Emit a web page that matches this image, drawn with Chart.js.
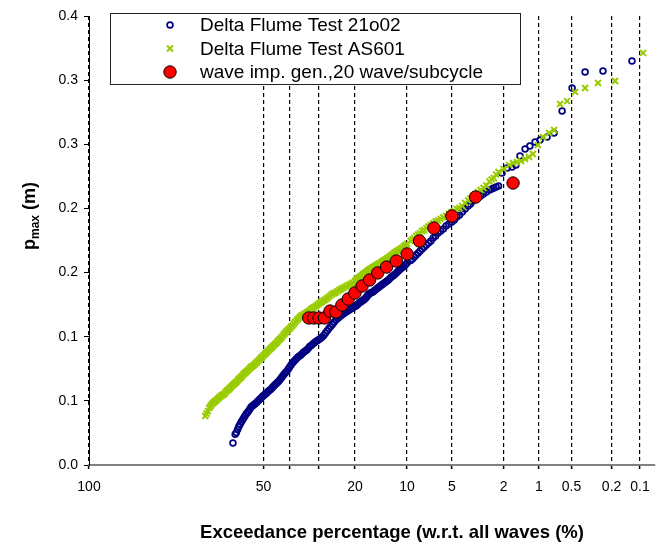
<!DOCTYPE html>
<html>
<head>
<meta charset="utf-8">
<script src="https://cdn.jsdelivr.net/npm/chart.js@4.4.0/dist/chart.umd.min.js"></script>
<style>
  html, body { margin: 0; padding: 0; background: #fff; }
  #wrap { width: 663px; height: 545px; position: relative; }
</style>
</head>
<body>
<div id="wrap"><canvas id="chart"></canvas></div>
<script>
// data (exceedance % , p_max in m)
const seriesNames = ['Delta Flume Test 21o02', 'Delta Flume Test AS601', 'wave imp. gen.,20 wave/subcycle'];

const test21o02Pct = [62.4, 61.5, 61, 60.5, 60, 59.5, 59, 58.5, 58, 57.5, 57, 56.5, 56, 55.5, 55, 54.5, 54, 53.5, 53, 52.5, 52, 51.5, 51, 50.5, 50, 49.5, 49, 48.5, 48, 47.5, 47, 46.5, 46, 45.5, 45, 44.5, 44, 43.5, 43, 42.5, 42, 41.5, 41, 40.5, 40, 39.5, 39, 38.5, 38, 37.5, 37, 36.5, 36, 35.5, 35, 34.5, 34, 33.5, 33, 32.5, 32, 31.5, 31, 30.5, 30, 29.5, 29, 28.5, 28, 27.5, 27, 26.5, 26, 25.5, 25, 24.5, 24, 23.5, 23, 22.5, 22, 21.5, 21, 20.5,
  20, 19.75, 19.5, 19.25, 19, 18.75, 18.5, 18.25, 18, 17.75, 17.5, 17.25, 17, 16.75, 16.5, 16.25, 16, 15.75, 15.5, 15.25, 15, 14.75, 14.5, 14.25, 14, 13.75, 13.5, 13.25, 13, 12.75, 12.5, 12.25, 12, 11.75, 11.5, 11.25, 11, 10.75, 10.5, 10.25,
  10, 9.5, 9.25, 9, 8.75, 8.5, 8.25, 8, 7.75, 7.5, 7.25, 7, 6.75, 6.5, 6.25, 6, 5.75, 5.5, 5.25, 5, 4.8, 4.6, 4.4, 4.2, 4.0, 3.8, 3.65, 3.5, 3.35, 3.2, 3.05, 2.9, 2.75, 2.6, 2.5, 2.4, 2.3, 2.2, 2.06, 1.87, 1.70, 1.58, 1.46, 1.32, 1.20, 1.08, 0.976, 0.844, 0.729, 0.614, 0.494, 0.370, 0.245, 0.122];
const test21o02Pmax = [0.0172, 0.0240, 0.0253, 0.0277, 0.0300, 0.0318, 0.0335, 0.0350, 0.0366, 0.0382, 0.0398, 0.0410, 0.0421, 0.0437, 0.0452, 0.0460, 0.0468, 0.0475, 0.0483, 0.0493, 0.0503, 0.0512, 0.0522, 0.0532, 0.0542, 0.0550, 0.0557, 0.0567, 0.0577, 0.0584, 0.0592, 0.0604, 0.0616, 0.0625, 0.0635, 0.0645, 0.0655, 0.0668, 0.0682, 0.0696, 0.0709, 0.0721, 0.0733, 0.0749, 0.0764, 0.0780, 0.0795, 0.0807, 0.0819, 0.0830, 0.0842, 0.0850, 0.0857, 0.0870, 0.0881, 0.0888, 0.0896, 0.0910, 0.0924, 0.0932, 0.0943, 0.0953, 0.0963, 0.0970, 0.0978, 0.0989, 0.0998, 0.1012, 0.1029, 0.1046, 0.1064, 0.1080, 0.1095, 0.1113, 0.1130, 0.1142, 0.1154, 0.1166, 0.1177, 0.1187, 0.1197, 0.1207, 0.1216, 0.1226,
  0.1236, 0.1241, 0.1247, 0.1255, 0.1263, 0.1268, 0.1274, 0.1280, 0.1286, 0.1294, 0.1302, 0.1313, 0.1325, 0.1333, 0.1341, 0.1345, 0.1349, 0.1357, 0.1364, 0.1372, 0.1380, 0.1388, 0.1395, 0.1403, 0.1411, 0.1418, 0.1426, 0.1434, 0.1442, 0.1453, 0.1465, 0.1473, 0.1481, 0.1492, 0.1504, 0.1516, 0.1528, 0.1537, 0.1547, 0.1561,
  0.1575, 0.1594, 0.1606, 0.1621, 0.1637, 0.1653, 0.1668, 0.1684, 0.1699, 0.1715, 0.1730, 0.1746, 0.1769, 0.1785, 0.1808, 0.1824, 0.1840, 0.1863, 0.1879, 0.1894, 0.1910, 0.1933, 0.1949, 0.1972, 0.1996, 0.2019, 0.2034, 0.2058, 0.2073, 0.2089, 0.2097, 0.2112, 0.2128, 0.2144, 0.2151, 0.2159, 0.2167, 0.2175, 0.2276, 0.2315, 0.2323, 0.2338, 0.2409, 0.2463, 0.2487, 0.2518, 0.2533, 0.2557, 0.2588, 0.2759, 0.2939, 0.3063, 0.3071, 0.3149];

const as601Pct = [73.5, 73, 72.5, 72, 71.5, 71, 70.5, 70, 69.5, 69, 68.5, 68, 67.5, 67, 66.5, 66, 65.5, 65, 64.5, 64, 63.5, 63, 62.5, 62, 61.5, 61, 60.5, 60, 59.5, 59, 58.5, 58, 57.5, 57, 56.5, 56, 55.5, 55, 54.5, 54, 53.5, 53, 52.5, 52, 51.5, 51, 50.5, 50, 49.5, 49, 48.5, 48, 47.5, 47, 46.5, 46, 45.5, 45, 44.5, 44, 43.5, 43, 42.5, 42, 41.5, 41, 40.5, 40, 39.5, 39, 38.5, 38, 37.5, 37, 36.5, 36, 35.5, 35, 34.5, 34, 33.5, 33, 32.5, 32, 31.5, 31, 30.5, 30, 29.5, 29, 28.5, 28, 27.5, 27, 26.5, 26, 25.5, 25, 24.5, 24, 23.5, 23, 22.5, 22, 21.5, 21, 20.5,
  20, 19.75, 19.5, 19.25, 19, 18.75, 18.5, 18.25, 18, 17.75, 17.5, 17.25, 17, 16.75, 16.5, 16.25, 16, 15.75, 15.5, 15.25, 15, 14.75, 14.5, 14.25, 14, 13.75, 13.5, 13.25, 13, 12.75, 12.5, 12.25, 12, 11.75, 11.5, 11.25, 11, 10.75, 10.5, 10.25,
  10, 9.5, 9.25, 9, 8.75, 8.5, 8.25, 8, 7.75, 7.5, 7.25, 7, 6.75, 6.5, 6.25, 6, 5.75, 5.5, 5.25, 5, 4.8, 4.6, 4.4, 4.2, 4.0, 3.8, 3.65, 3.5, 3.35, 3.2, 3.05, 2.9, 2.75, 2.6, 2.5, 2.4, 2.3, 2.2, 2.0, 1.80, 1.67, 1.55, 1.43, 1.32, 1.22, 1.13, 1.02, 0.917, 0.810, 0.729, 0.641, 0.551, 0.462, 0.370, 0.275, 0.184, 0.0925];
const as601Pmax = [0.0382, 0.0400, 0.0420, 0.0444, 0.0458, 0.0472, 0.0482, 0.0491, 0.0499, 0.0507, 0.0517, 0.0526, 0.0534, 0.0542, 0.0548, 0.0553, 0.0565, 0.0577, 0.0585, 0.0592, 0.0602, 0.0612, 0.0622, 0.0631, 0.0639, 0.0647, 0.0659, 0.0670, 0.0678, 0.0686, 0.0698, 0.0709, 0.0717, 0.0725, 0.0735, 0.0744, 0.0754, 0.0764, 0.0770, 0.0776, 0.0786, 0.0795, 0.0805, 0.0815, 0.0825, 0.0834, 0.0844, 0.0854, 0.0864, 0.0873, 0.0883, 0.0893, 0.0903, 0.0912, 0.0922, 0.0932, 0.0942, 0.0951, 0.0963, 0.0974, 0.0984, 0.0994, 0.1008, 0.1021, 0.1033, 0.1045, 0.1055, 0.1064, 0.1076, 0.1087, 0.1101, 0.1115, 0.1127, 0.1138, 0.1150, 0.1161, 0.1167, 0.1173, 0.1181, 0.1189, 0.1197, 0.1204, 0.1214, 0.1224, 0.1232, 0.1239, 0.1249, 0.1259, 0.1267, 0.1274, 0.1282, 0.1290, 0.1300, 0.1310, 0.1322, 0.1333, 0.1339, 0.1345, 0.1355, 0.1364, 0.1372, 0.1380, 0.1388, 0.1395, 0.1403, 0.1411, 0.1421,
  0.1430, 0.1440, 0.1450, 0.1456, 0.1462, 0.1468, 0.1473, 0.1481, 0.1489, 0.1495, 0.1501, 0.1508, 0.1516, 0.1522, 0.1528, 0.1534, 0.1540, 0.1546, 0.1551, 0.1557, 0.1563, 0.1569, 0.1575, 0.1582, 0.1590, 0.1596, 0.1602, 0.1610, 0.1617, 0.1625, 0.1633, 0.1643, 0.1653, 0.1660, 0.1668, 0.1676, 0.1684, 0.1693, 0.1703, 0.1713,
  0.1723, 0.1746, 0.1758, 0.1769, 0.1785, 0.1797, 0.1808, 0.1824, 0.1832, 0.1847, 0.1859, 0.1871, 0.1886, 0.1898, 0.1906, 0.1918, 0.1929, 0.1941, 0.1957, 0.1972, 0.1980, 0.1996, 0.2003, 0.2019, 0.2042, 0.2062, 0.2077, 0.2097, 0.2109, 0.2128, 0.2144, 0.2159, 0.2179, 0.2210, 0.2226, 0.2237, 0.2264, 0.2284, 0.2307, 0.2338, 0.2354, 0.2362, 0.2370, 0.2385, 0.2401, 0.2424, 0.2494, 0.2557, 0.2588, 0.2611, 0.2814, 0.2837, 0.2908, 0.2939, 0.2978, 0.2993, 0.3212];

const impGenPct = [33.33, 31.67, 30, 28.33, 26.67, 25, 23.33, 21.67, 20, 18.33, 16.67, 15, 13.33, 11.67, 10, 8.33, 6.67, 5, 3.33, 1.67];
const impGenPmax = [0.1146, 0.1146, 0.1146, 0.1146, 0.1200, 0.1193, 0.1247, 0.1294, 0.1341, 0.1395, 0.1442, 0.1497, 0.1543, 0.1590, 0.1645, 0.1746, 0.1847, 0.1941, 0.2089, 0.2198];

const xTickPercents = [100, 50, 40, 30, 20, 10, 5, 2, 1, 0.5, 0.2, 0.1];
const xTickLabels = ['100', '50', '', '', '20', '10', '5', '2', '1', '0.5', '0.2', '0.1'];
const yTickValues = [0, 0.05, 0.1, 0.15, 0.2, 0.25, 0.3, 0.35];
const yTickLabels = ['0.0', '0.1', '0.1', '0.2', '0.2', '0.3', '0.3', '0.4'];

// Rayleigh probability axis: position = sqrt(-ln(P))
function rayleigh(pct) { return Math.sqrt(-Math.log(pct / 100)); }
function toPoints(pcts, vals) { return pcts.map((p, i) => ({ x: rayleigh(p), y: vals[i] })); }

const FONT = '"Liberation Sans", Arial, sans-serif';

const legendBox = {
  id: 'legendBox',
  afterDatasetsDraw(chart) {
    const ctx = chart.ctx;
    ctx.save();
    ctx.fillStyle = '#fff';
    ctx.fillRect(110, 13, 411, 72);
    ctx.strokeStyle = '#222';
    ctx.lineWidth = 1;
    ctx.strokeRect(110.5, 13.5, 410, 71);
    const rows = [25, 48.5, 72];
    chart.data.datasets.forEach((ds, i) => {
      ctx.strokeStyle = ds.borderColor;
      ctx.fillStyle = ds.backgroundColor;
      ctx.lineWidth = ds.borderWidth;
      Chart.helpers.drawPoint(ctx, { pointStyle: ds.pointStyle, radius: ds.pointRadius, borderWidth: ds.borderWidth, rotation: 0 }, 170, rows[i]);
      ctx.fillStyle = '#000';
      ctx.font = '19px ' + FONT;
      ctx.textBaseline = 'middle';
      ctx.textAlign = 'left';
      ctx.fillText(ds.label, 200, rows[i] + 1);
    });
    ctx.restore();
  }
};

const axisTitles = {
  id: 'axisTitles',
  afterDraw(chart) {
    const ctx = chart.ctx;
    ctx.save();
    ctx.fillStyle = '#000';
    ctx.textBaseline = 'alphabetic';
    // x title
    ctx.font = 'bold 18.5px ' + FONT;
    ctx.textAlign = 'center';
    ctx.fillText('Exceedance percentage (w.r.t. all waves (%)', 392, 538);
    // y title with subscript
    ctx.translate(35, 216);
    ctx.rotate(-Math.PI / 2);
    const big = 'bold 18px ' + FONT, small = 'bold 12px ' + FONT;
    ctx.font = big; const w1 = ctx.measureText('p').width;
    ctx.font = small; const w2 = ctx.measureText('max').width;
    ctx.font = big; const w3 = ctx.measureText(' (m)').width;
    let x = -(w1 + w2 + w3) / 2;
    ctx.textAlign = 'left';
    ctx.font = big; ctx.fillText('p', x, 0); x += w1;
    ctx.font = small; ctx.fillText('max', x, 4); x += w2;
    ctx.font = big; ctx.fillText(' (m)', x, 0);
    ctx.restore();
  }
};

const data = {
  datasets: [
    {
      label: seriesNames[0],
      data: toPoints(test21o02Pct, test21o02Pmax),
      showLine: false,
      pointStyle: 'circle',
      pointRadius: 2.9,
      borderWidth: 1.7,
      borderColor: '#000080',
      backgroundColor: 'rgba(255,255,255,0)',
      order: 3
    },
    {
      label: seriesNames[1],
      data: toPoints(as601Pct, as601Pmax),
      showLine: false,
      pointStyle: 'crossRot',
      pointRadius: 4.2,
      borderWidth: 2,
      borderColor: '#99CC00',
      backgroundColor: '#99CC00',
      order: 2
    },
    {
      label: seriesNames[2],
      data: toPoints(impGenPct, impGenPmax),
      showLine: false,
      pointStyle: 'circle',
      pointRadius: 6.2,
      borderWidth: 1,
      borderColor: '#000',
      backgroundColor: '#FF0000',
      order: 1
    }
  ]
};

const config = {
  type: 'scatter',
  data,
  options: {
    responsive: true,
    maintainAspectRatio: false,
    animation: false,
    layout: { padding: { top: 16, right: 8, left: 0, bottom: 0 } },
    plugins: { legend: { display: false }, tooltip: { enabled: false } },
    scales: {
      x: {
        type: 'linear',
        min: 0,
        max: 2.70,
        afterBuildTicks: s => { s.ticks = xTickPercents.map(p => ({ value: rayleigh(p) })); },
        afterFit: s => { s.height = 80; },
        ticks: {
          autoSkip: false, maxRotation: 0, padding: 10, color: '#000',
          font: { family: FONT, size: 14 },
          callback: (v, i) => xTickLabels[i]
        },
        grid: { color: '#000', lineWidth: 1.2, tickLength: 4, tickColor: '#000', tickWidth: 1.5 },
        border: { color: '#808080', width: 2, dash: [4, 3] }
      },
      y: {
        min: 0,
        max: 0.35,
        afterBuildTicks: s => { s.ticks = yTickValues.map(v => ({ value: v })); },
        afterFit: s => { s.width = 89; },
        ticks: {
          padding: 6, color: '#000',
          font: { family: FONT, size: 14 },
          callback: (v, i) => yTickLabels[i]
        },
        grid: { drawOnChartArea: false, tickLength: 5, tickColor: '#000', tickWidth: 1 },
        border: { color: '#000', width: 1 }
      }
    }
  },
  plugins: [legendBox, axisTitles]
};

const pmaxChart = new Chart(document.getElementById('chart'), config);
</script>
</body>
</html>
